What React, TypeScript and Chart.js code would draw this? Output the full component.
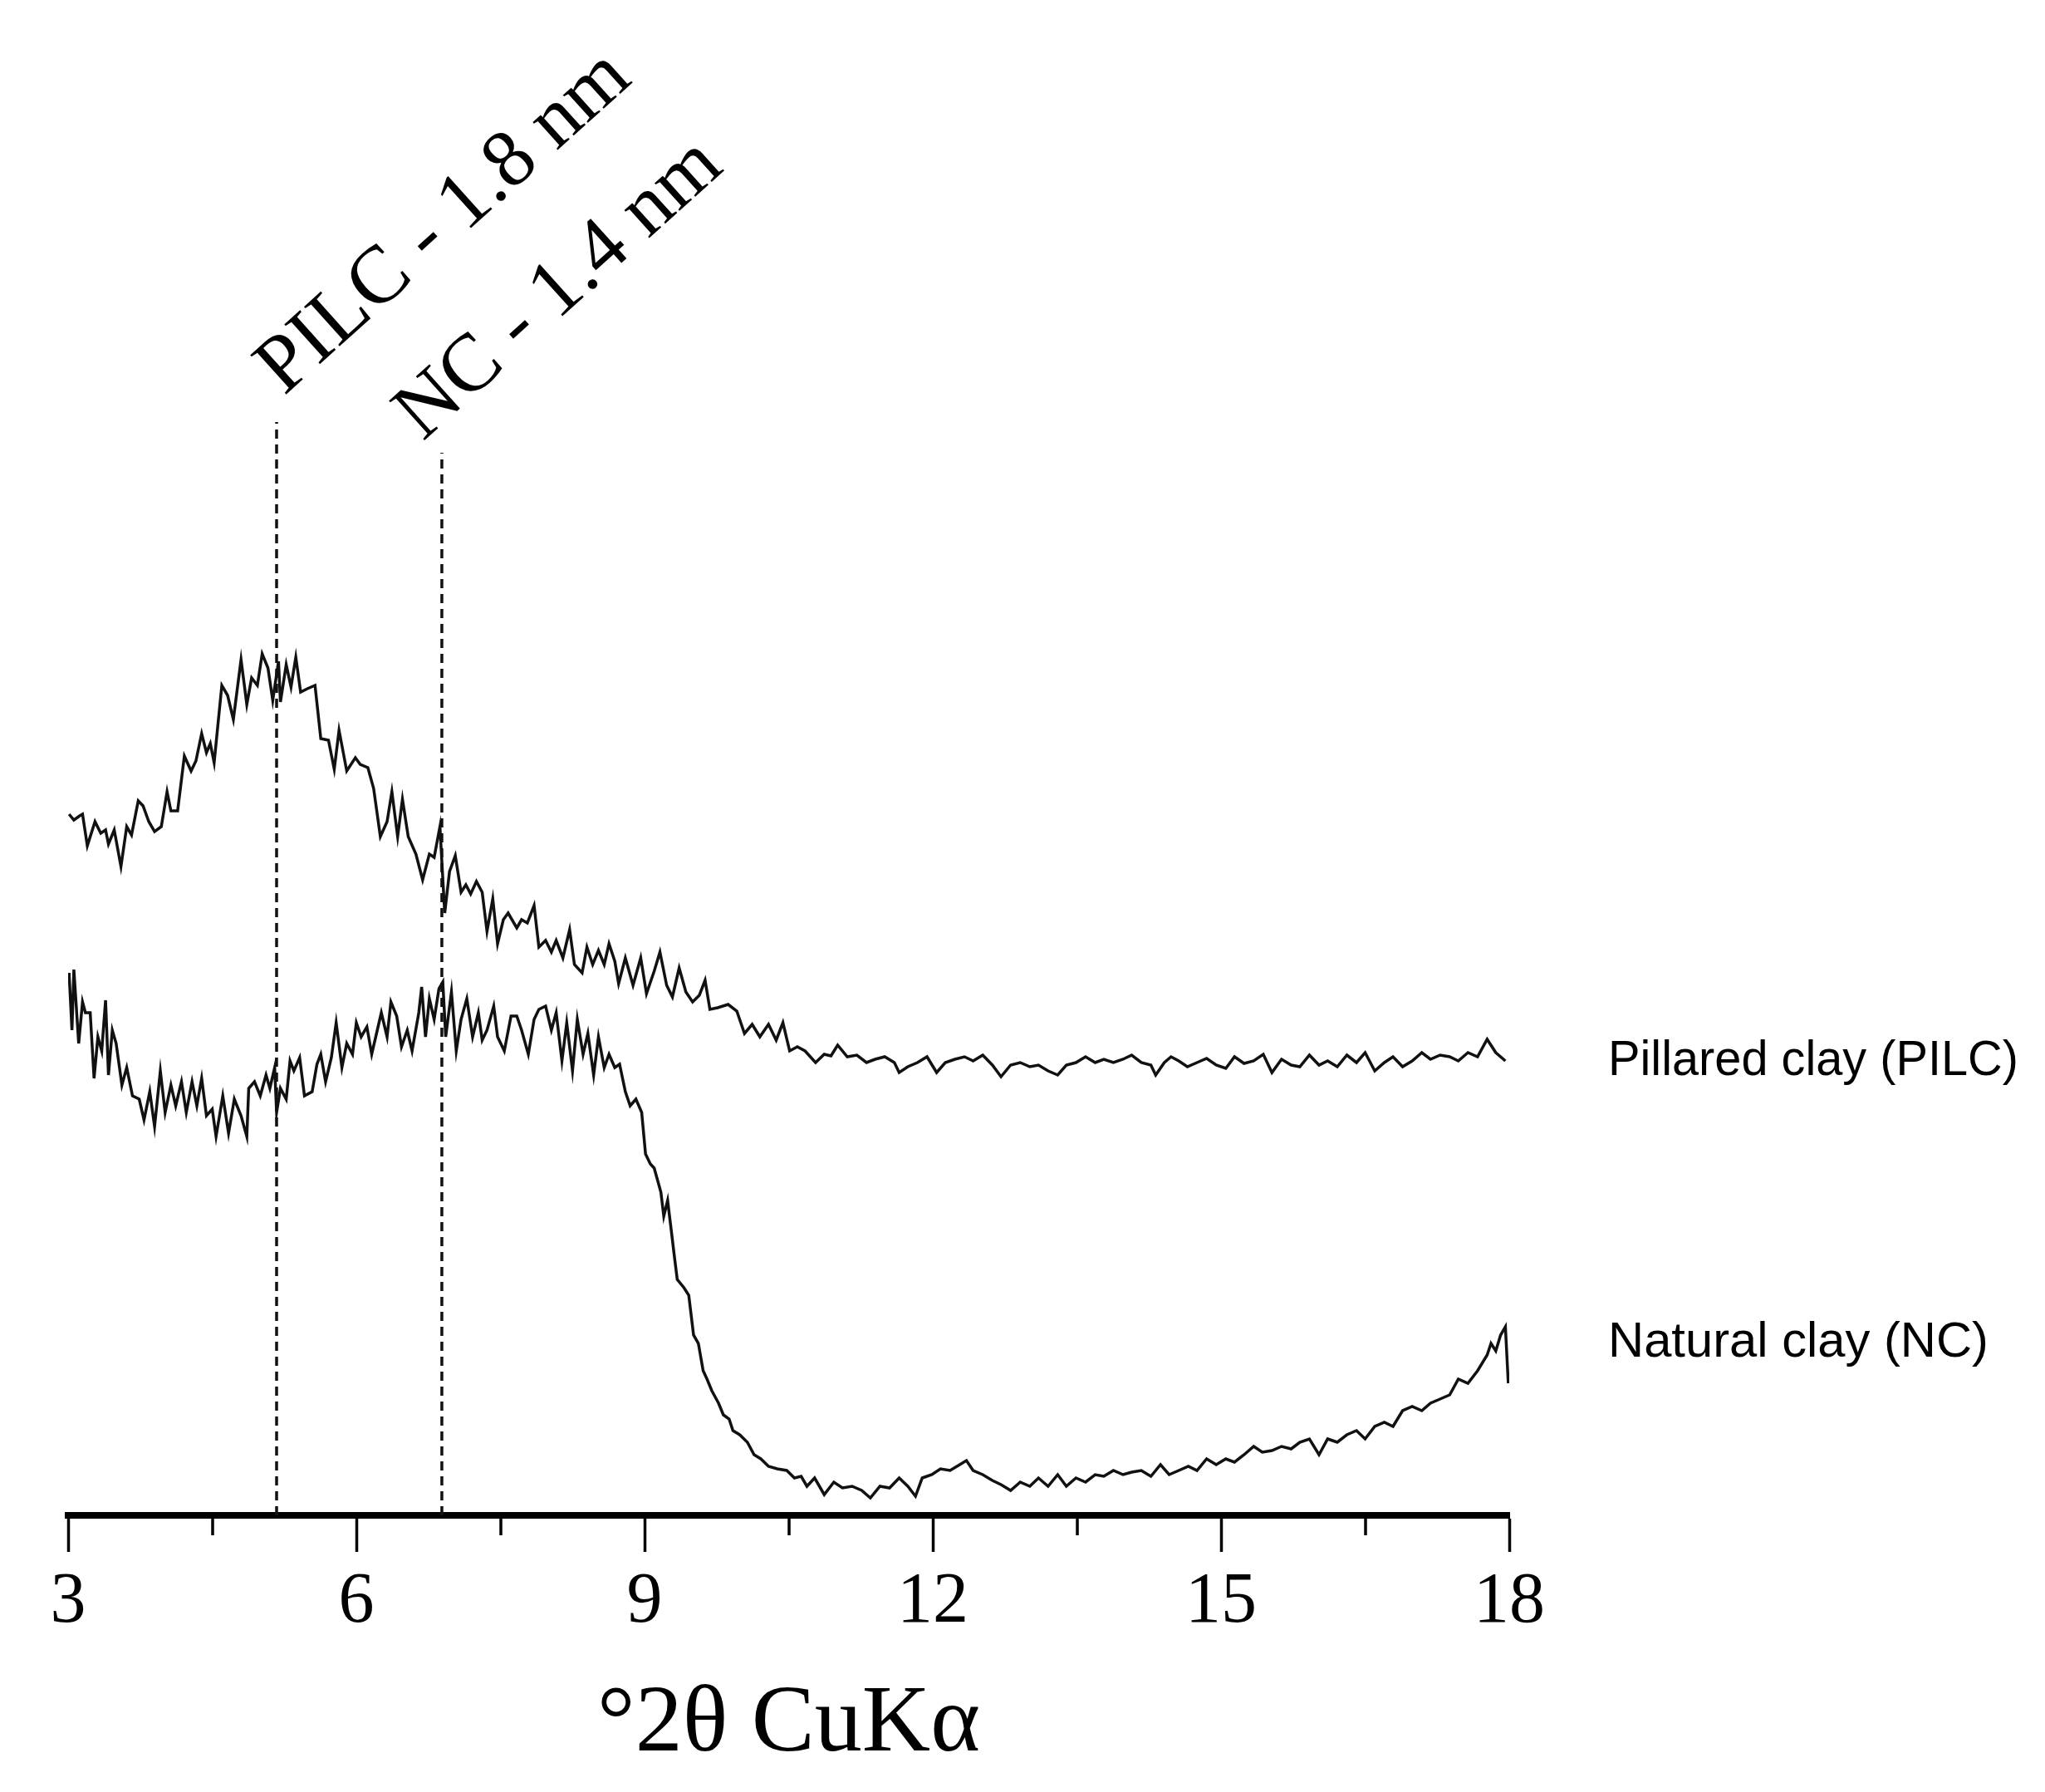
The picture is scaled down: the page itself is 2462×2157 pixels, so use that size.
import { useEffect, useRef } from 'react'
import Chart from 'chart.js/auto'

// XRD patterns, 2θ (deg) vs intensity (a.u.)
const pilcTheta = [
  3.01, 3.06, 3.12, 3.15, 3.2, 3.28, 3.34, 3.39, 3.42, 3.48, 3.55, 3.61, 3.66, 3.73, 3.78, 3.84, 3.9, 3.97,
  4.03, 4.07, 4.14, 4.21, 4.28, 4.33, 4.39, 4.44, 4.48, 4.52, 4.6, 4.66, 4.72, 4.8, 4.86, 4.91, 4.97,
  5.02, 5.08, 5.13, 5.19, 5.21, 5.27, 5.32, 5.37, 5.42, 5.49, 5.57, 5.63, 5.71, 5.77, 5.82, 5.9, 5.99,
  6.04, 6.12, 6.18, 6.25, 6.32, 6.37, 6.43, 6.48, 6.54, 6.62, 6.69, 6.76, 6.81, 6.87, 6.92, 6.97,
  7.03, 7.09, 7.14, 7.19, 7.25, 7.31, 7.36, 7.42, 7.47, 7.53, 7.58, 7.67, 7.72, 7.78, 7.85, 7.9, 7.97,
  8.03, 8.08, 8.15, 8.22, 8.27, 8.35, 8.4, 8.46, 8.52, 8.58, 8.63, 8.69, 8.73, 8.8, 8.88, 8.96,
  9.02, 9.1, 9.16, 9.23, 9.29, 9.36, 9.43, 9.5, 9.57, 9.63, 9.68, 9.76, 9.87, 9.96,
  10.04, 10.12, 10.2, 10.29, 10.37, 10.44, 10.51, 10.59, 10.67, 10.78, 10.87, 10.94,
  11.01, 11.11, 11.21, 11.31, 11.4, 11.5, 11.6, 11.65, 11.74, 11.84, 11.94,
  12.04, 12.13, 12.23, 12.33, 12.42, 12.52, 12.62, 12.71, 12.81, 12.91,
  13.01, 13.1, 13.2, 13.3, 13.39, 13.49, 13.59, 13.69, 13.78, 13.88, 13.98,
  14.07, 14.17, 14.27, 14.32, 14.41, 14.48, 14.56, 14.65, 14.75, 14.85, 14.95,
  15.05, 15.14, 15.24, 15.34, 15.44, 15.53, 15.63, 15.73, 15.82, 15.92,
  16.02, 16.11, 16.21, 16.31, 16.41, 16.5, 16.6, 16.7, 16.79, 16.89, 16.99,
  17.09, 17.18, 17.28, 17.38, 17.47, 17.57, 17.67, 17.77, 17.86, 17.96,
]
const pilcCounts = [
  844, 837, 842, 844, 806, 835, 821, 825, 808, 825, 781, 829, 819, 860, 854, 835, 823, 829,
  871, 848, 848, 914, 896, 908, 941, 918, 929, 906, 999, 987, 958, 1030, 976, 1008, 999,
  1037, 1020, 981, 1028, 979, 1024, 997, 1033, 991, 995, 999, 935, 933, 898, 945, 896, 912,
  904, 900, 875, 817, 835, 871, 817, 862, 817, 796, 765, 796, 792, 829, 725, 775,
  794, 750, 759, 748, 763, 750, 703, 742, 688, 717, 725, 707, 717, 713, 734, 684, 692,
  678, 692, 671, 705, 663, 653, 684, 663, 680, 663, 688, 667, 640, 671, 638, 671,
  628, 655, 678, 638, 624, 659, 630, 618, 626, 644, 609, 611, 615, 607,
  580, 591, 576, 591, 572, 593, 559, 564, 559, 545, 555, 553,
  566, 552, 554, 545, 549, 552, 545, 533, 540, 545, 552,
  533, 545, 549, 552, 547, 554, 542, 528, 542, 545,
  540, 542, 535, 530, 542, 545, 552, 545, 549, 545, 549,
  554, 545, 542, 530, 545, 552, 547, 540, 545, 550, 542,
  538, 552, 544, 547, 555, 533, 549, 542, 540, 554,
  542, 547, 540, 554, 545, 557, 535, 545, 552, 540, 547,
  557, 549, 554, 552, 547, 557, 552, 573, 557, 547,
]
const ncTheta = [
  3.01, 3.04, 3.06, 3.11, 3.15, 3.18, 3.23, 3.27, 3.31, 3.35, 3.39, 3.42, 3.46, 3.5, 3.56, 3.61, 3.67,
  3.74, 3.79, 3.85, 3.9, 3.96, 4.01, 4.07, 4.12, 4.18, 4.23, 4.29, 4.34, 4.39, 4.44, 4.5, 4.54, 4.61,
  4.67, 4.73, 4.8, 4.86, 4.88, 4.94, 5.0, 5.06, 5.1, 5.15, 5.17, 5.21, 5.27, 5.31, 5.35, 5.41, 5.46,
  5.54, 5.59, 5.63, 5.68, 5.74, 5.79, 5.85, 5.9, 5.96, 6.0, 6.05, 6.11, 6.16, 6.21, 6.26, 6.32, 6.36,
  6.42, 6.47, 6.53, 6.58, 6.65, 6.68, 6.72, 6.76, 6.81, 6.86, 6.9, 6.93, 6.99, 7.04, 7.09, 7.15, 7.21,
  7.27, 7.31, 7.36, 7.43, 7.47, 7.54, 7.61, 7.67, 7.72, 7.79, 7.85, 7.9, 7.97, 8.03, 8.08, 8.14, 8.19,
  8.25, 8.3, 8.36, 8.41, 8.47, 8.52, 8.58, 8.63, 8.69, 8.74, 8.8, 8.85, 8.91, 8.97,
  9.01, 9.06, 9.1, 9.17, 9.2, 9.24, 9.28, 9.31, 9.34, 9.41, 9.46, 9.51, 9.56, 9.61, 9.65, 9.7, 9.77,
  9.82, 9.88, 9.92, 9.99, 10.07, 10.14, 10.21, 10.29, 10.38, 10.48, 10.56, 10.63, 10.69, 10.77, 10.87,
  10.97, 11.06, 11.16, 11.26, 11.35, 11.45, 11.55, 11.65, 11.74, 11.82, 11.89, 11.99,
  12.08, 12.18, 12.28, 12.35, 12.42, 12.52, 12.62, 12.71, 12.81, 12.91,
  13.01, 13.1, 13.2, 13.3, 13.39, 13.49, 13.59, 13.69, 13.78, 13.88, 13.98,
  14.07, 14.17, 14.27, 14.37, 14.46, 14.56, 14.66, 14.75, 14.85, 14.95,
  15.05, 15.14, 15.24, 15.34, 15.43, 15.53, 15.63, 15.73, 15.82, 15.92,
  16.02, 16.11, 16.21, 16.31, 16.41, 16.5, 16.6, 16.7, 16.79, 16.89, 16.99,
  17.09, 17.18, 17.28, 17.38, 17.47, 17.57, 17.67, 17.77, 17.81, 17.86, 17.91, 17.96, 17.99,
]
const ncCounts = [
  653, 584, 657, 568, 618, 605, 605, 526, 576, 559, 620, 530, 584, 568, 518, 539, 505,
  501, 476, 510, 468, 535, 485, 518, 493, 522, 485, 522, 493, 526, 481, 489, 456, 505,
  460, 501, 481, 456, 514, 522, 505, 530, 514, 539, 485, 514, 501, 547, 535, 551, 505,
  510, 543, 555, 522, 551, 593, 539, 568, 555, 593, 576, 588, 555, 580, 605, 576, 618,
  601, 564, 584, 559, 605, 636, 576, 622, 597, 634, 642, 576, 630, 559, 597, 622, 576,
  605, 572, 584, 613, 576, 559, 601, 601, 584, 555, 597, 609, 613, 584, 605, 547, 593,
  535, 597, 555, 580, 530, 576, 539, 555, 539, 543, 510, 493, 501, 485,
  435, 423, 418, 389, 360, 379, 341, 312, 284, 274, 265, 217, 207, 174, 164, 150, 135,
  121, 116, 102, 97, 88, 73, 68, 59, 56, 54, 45, 47, 35, 45, 25,
  40, 33, 35, 30, 21, 35, 33, 45, 35, 23, 45, 49,
  56, 54, 61, 66, 54, 49, 42, 37, 30, 40,
  35, 45, 35, 49, 35, 45, 40, 49, 47, 54, 49,
  52, 54, 47, 61, 49, 54, 59, 54, 68, 61,
  68, 64, 73, 83, 76, 78, 83, 80, 88, 92,
  73, 92, 88, 97, 102, 92, 107, 112, 107, 126, 131,
  126, 135, 140, 145, 164, 159, 174, 193, 207, 198, 217, 227, 159,
]

// d001 reflections marked with dashed lines
const peakTheta = [5.17, 6.89]
const peakTop = [1316, 1279]
const peakNames = ['PILC - 1.8 nm', 'NC - 1.4 nm']
const seriesNames = ['Pillared clay (PILC)', 'Natural clay (NC)']
const xTicks = [3, 6, 9, 12, 15, 18]
const minorTicks = [4.5, 7.5, 10.5, 13.5, 16.5]

const toPoints = (xs: number[], ys: number[]) => xs.map((x, i) => ({ x, y: ys[i] }))

const annotations = {
  id: 'xrdAnnotations',
  afterDraw(chart: any) {
    const { ctx, chartArea } = chart
    const xs = chart.scales.x
    const ys = chart.scales.y
    ctx.save()

    // minor ticks
    ctx.strokeStyle = '#000'
    ctx.lineWidth = 3.5
    minorTicks.forEach((t) => {
      const px = Math.round(xs.getPixelForValue(t))
      ctx.beginPath()
      ctx.moveTo(px, chartArea.bottom + 4)
      ctx.lineTo(px, chartArea.bottom + 24)
      ctx.stroke()
    })

    // rotated peak labels
    const offsets = [
      [9, -31],
      [-23, -13],
    ]
    ctx.fillStyle = '#000'
    ctx.font = '98px "Liberation Serif", "Times New Roman", serif'
    ctx.textAlign = 'left'
    ctx.textBaseline = 'alphabetic'
    peakNames.forEach((name, i) => {
      const px = xs.getPixelForValue(peakTheta[i]) + offsets[i][0]
      const py = ys.getPixelForValue(peakTop[i]) + offsets[i][1]
      ctx.save()
      ctx.translate(px, py)
      ctx.rotate((-42 * Math.PI) / 180)
      ctx.fillText(name, 0, 0)
      ctx.restore()
    })

    // series names on the right
    ctx.font = '60px "Liberation Sans Narrow", "Liberation Sans", Arial, sans-serif'
    const baselines = [ys.getPixelForValue(530), ys.getPixelForValue(191)]
    const widths = [494, 458]
    seriesNames.forEach((name, i) => {
      ctx.fillText(name, chartArea.right + 119, baselines[i], widths[i])
    })
    ctx.restore()
  },
}

export default function App() {
  const canvasRef = useRef<HTMLCanvasElement>(null)

  useEffect(() => {
    if (!canvasRef.current) return
    const chart = new Chart(canvasRef.current, {
      type: 'line',
      data: {
        datasets: [
          {
            label: seriesNames[0],
            data: toPoints(pilcTheta, pilcCounts),
            borderColor: '#111',
            borderWidth: 3.5,
            pointRadius: 0,
            tension: 0,
          },
          {
            label: seriesNames[1],
            data: toPoints(ncTheta, ncCounts),
            borderColor: '#111',
            borderWidth: 3.5,
            pointRadius: 0,
            tension: 0,
          },
          ...peakTheta.map((t, i) => ({
            label: peakNames[i],
            data: [
              { x: t, y: 0 },
              { x: t, y: peakTop[i] },
            ],
            borderColor: '#111',
            borderWidth: 3.5,
            borderDash: [11, 7],
            pointRadius: 0,
          })),
        ],
      },
      options: {
        animation: false,
        responsive: true,
        maintainAspectRatio: false,
        layout: { padding: { left: 82, right: 645, top: 100, bottom: 0 } },
        plugins: {
          legend: { display: false },
          tooltip: { enabled: false },
        },
        scales: {
          x: {
            type: 'linear',
            min: 3,
            max: 18,
            afterBuildTicks(scale: any) {
              scale.ticks = xTicks.map((v) => ({ value: v }))
            },
            afterFit(scale: any) {
              scale.height = 333
            },
            border: { display: true, color: '#000', width: 8 },
            grid: {
              drawOnChartArea: false,
              drawTicks: true,
              tickLength: 44,
              tickWidth: 3.5,
              tickColor: '#000',
            },
            ticks: {
              color: '#000',
              padding: 10,
              maxRotation: 0,
              font: { family: '"Liberation Serif", "Times New Roman", serif', size: 86 },
            },
            title: {
              display: true,
              text: '°2θ CuKα',
              color: '#000',
              padding: { top: 0, bottom: 12 },
              font: { family: '"Liberation Serif", "Times New Roman", serif', size: 114 },
            },
          },
          y: {
            display: false,
            min: 0,
            max: 1724,
          },
        },
      },
      plugins: [annotations],
    })
    return () => chart.destroy()
  }, [])

  return (
    <div style={{ position: 'fixed', left: 0, top: 0, width: '100vw', height: '100vh', background: '#fff' }}>
      <canvas ref={canvasRef} />
    </div>
  )
}
